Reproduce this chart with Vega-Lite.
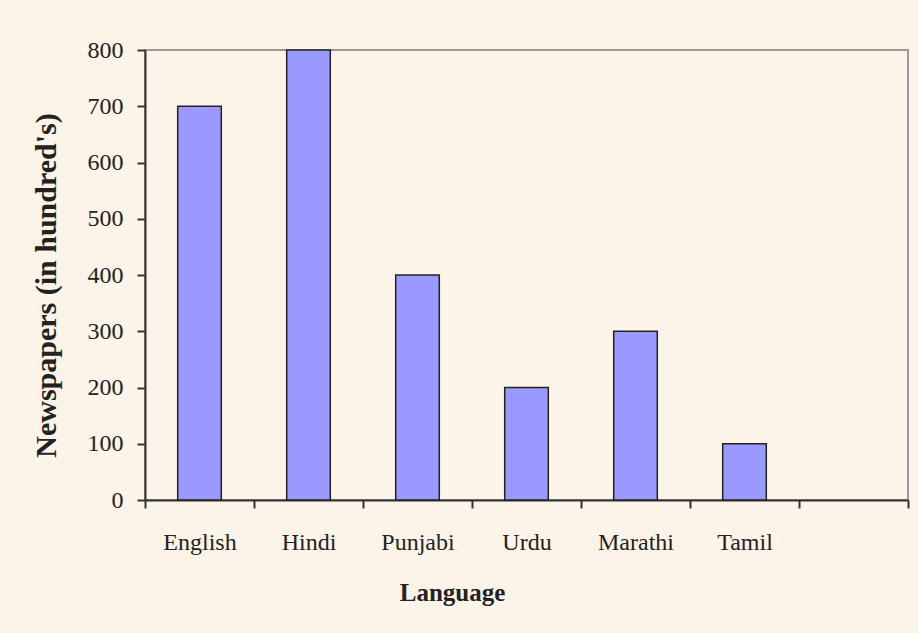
{
  "$schema": "https://vega.github.io/schema/vega-lite/v6.json",
  "width": 763,
  "height": 450,
  "autosize": {"type": "none"},
  "padding": {"left": 145, "top": 50, "right": 10, "bottom": 133},
  "background": "#FCF4E8",
  "config": {
    "view": {"stroke": "#999999", "strokeWidth": 2},
    "font": "Liberation Serif"
  },
  "data": {
    "values": [
      {"Language": "English", "Newspapers": 700},
      {"Language": "Hindi", "Newspapers": 800},
      {"Language": "Punjabi", "Newspapers": 400},
      {"Language": "Urdu", "Newspapers": 200},
      {"Language": "Marathi", "Newspapers": 300},
      {"Language": "Tamil", "Newspapers": 100}
    ]
  },
  "mark": {"type": "bar", "color": "#9999FF", "stroke": "#222222", "strokeWidth": 1.5, "width": {"band": 0.4}},
  "encoding": {
    "x": {
      "field": "Language",
      "type": "nominal",
      "sort": null,
      "scale": {"domain": ["English", "Hindi", "Punjabi", "Urdu", "Marathi", "Tamil", " "], "paddingInner": 0, "paddingOuter": 0},
      "axis": {
        "title": "Language",
        "titleFont": "Liberation Serif",
        "titleFontSize": 25,
        "titleFontWeight": "bold",
        "titleColor": "#222222",
        "titlePadding": 26,
        "titleX": 307,
        "labelFont": "Liberation Serif",
        "labelFontSize": 24,
        "labelColor": "#222222",
        "labelAngle": 0,
        "labelPadding": 22,
        "tickBand": "extent",
        "tickExtra": true,
        "tickSize": 8,
        "tickColor": "#333333",
        "tickWidth": 2,
        "domainColor": "#333333",
        "domainWidth": 2,
        "grid": false
      }
    },
    "y": {
      "field": "Newspapers",
      "type": "quantitative",
      "scale": {"domain": [0, 800], "nice": false},
      "axis": {
        "title": "Newspapers (in hundred's)",
        "titleFont": "Liberation Serif",
        "titleFontSize": 30,
        "titleFontWeight": "bold",
        "titleColor": "#222222",
        "titlePadding": 26,
        "titleY": 235,
        "values": [0, 100, 200, 300, 400, 500, 600, 700, 800],
        "labelFont": "Liberation Serif",
        "labelFontSize": 24,
        "labelColor": "#222222",
        "labelPadding": 14,
        "tickSize": 8,
        "tickColor": "#333333",
        "tickWidth": 2,
        "domainColor": "#333333",
        "domainWidth": 2,
        "grid": false
      }
    }
  }
}
